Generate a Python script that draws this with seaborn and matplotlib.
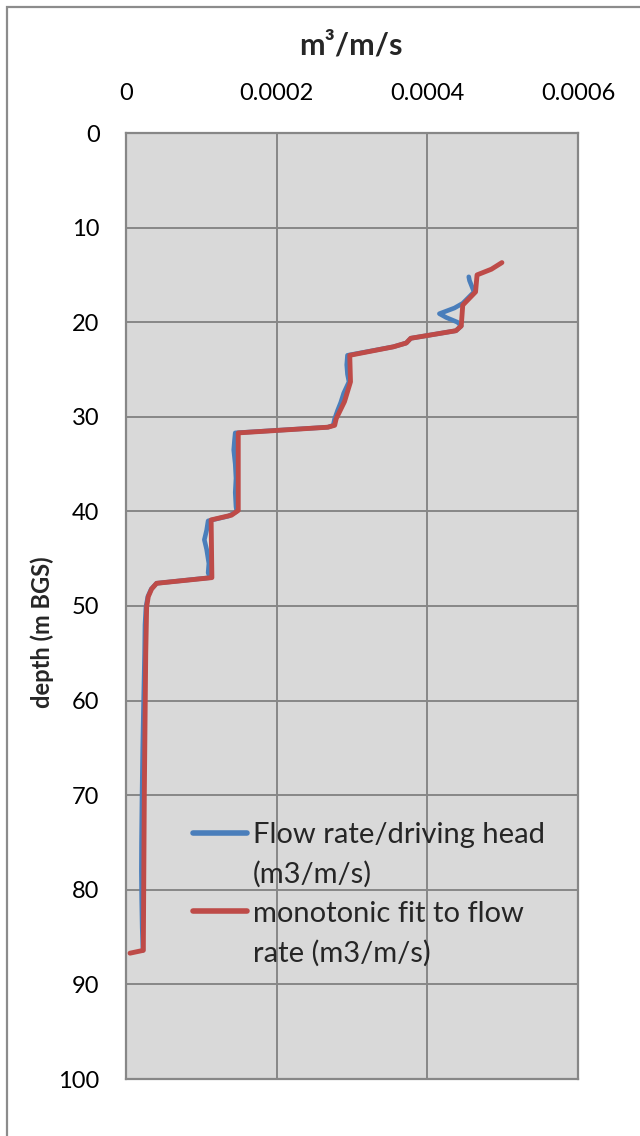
import matplotlib
matplotlib.use("Agg")
import matplotlib.pyplot as plt
import seaborn as sns
import pandas as pd
from matplotlib.lines import Line2D
from matplotlib.patches import Rectangle
from matplotlib.ticker import FixedLocator, FixedFormatter

# ---- data ----
fit_depth = [13.7, 14.4, 15.0, 16.8, 18.2, 20.4, 20.9, 21.7, 22.2, 22.6, 23.5,
             26.3, 28.4, 30.2, 30.9, 31.1, 31.7, 39.9, 40.4, 40.9, 47.0, 47.6,
             48.2, 49.0, 50.1, 55.0, 62.8, 70.0, 80.0, 86.4, 86.7]
fit_rate = [0.000499, 0.000485, 0.000466, 0.000464, 0.000447, 0.000445, 0.000438,
            0.000378, 0.000372, 0.000355, 0.000297, 0.000298, 0.000290, 0.000279,
            0.000277, 0.000268, 0.000149, 0.000149, 0.000140, 0.000113, 0.000114,
            0.0000406, 0.0000340, 0.0000296, 0.0000274, 0.0000262, 0.0000252,
            0.0000243, 0.0000235, 0.0000230, 0.0000053]

flow_depth = [15.2, 15.6, 16.2, 16.8, 18.0, 18.5, 19.1, 19.5, 20.0, 20.4, 20.9,
              21.7, 22.2, 22.6, 23.5, 24.5, 25.5, 26.3, 27.5, 28.5, 29.3, 30.2,
              30.9, 31.1, 31.7, 32.5, 33.5, 35.0, 36.5, 38.0, 39.5, 40.0, 40.5,
              41.0, 42.0, 43.0, 44.0, 45.5, 46.5, 47.0, 47.6, 48.2, 49.0, 50.1,
              52.0, 55.0, 60.0, 65.0, 70.5, 75.0, 78.0, 81.0, 84.0, 86.4]
flow_rate = [0.000455, 0.000456, 0.000459, 0.000462, 0.000447, 0.000436, 0.000416,
             0.000425, 0.000440, 0.000445, 0.000438, 0.000378, 0.000372, 0.000355,
             0.000294, 0.000293, 0.000294, 0.000296, 0.000289, 0.000285, 0.000281,
             0.000277, 0.000275, 0.000268, 0.000145, 0.000144, 0.000143, 0.000145,
             0.000146, 0.000145, 0.000146, 0.000147, 0.000136, 0.000109, 0.000107,
             0.000104, 0.000107, 0.000110, 0.000109, 0.000112, 0.0000406, 0.0000335,
             0.0000290, 0.0000265, 0.0000252, 0.0000247, 0.0000234, 0.0000222,
             0.0000212, 0.0000206, 0.0000204, 0.0000208, 0.0000215, 0.0000225]

x_ticks = [0, 0.0002, 0.0004, 0.0006]
x_tick_labels = ["0", "0.0002", "0.0004", "0.0006"]
y_ticks = list(range(0, 101, 10))
y_tick_labels = [str(v) for v in y_ticks]

label_flow = "Flow rate/driving head"
label_flow2 = "(m3/m/s)"
label_fit = "monotonic fit to flow"
label_fit2 = "rate (m3/m/s)"
x_title = "m\u00b3/m/s"
y_title = "depth (m BGS)"

# ---- style ----
sns.set_style("white")
plt.rcParams["font.family"] = ["Lato", "DejaVu Sans"]

BLUE = "#4a7ebb"
RED = "#be4b48"
GRID = "#878787"
BG = "#d9d9d9"

fig = plt.figure(figsize=(6.4, 11.36), dpi=100)
W, H = 640, 1136
ax = fig.add_axes([126 / W, 1 - 1079 / H, (578 - 126) / W, (1079 - 133) / H])
ax.set_facecolor(BG)

df_flow = pd.DataFrame({"rate": flow_rate, "depth": flow_depth})
df_fit = pd.DataFrame({"rate": fit_rate, "depth": fit_depth})

sns.lineplot(data=df_flow, x="rate", y="depth", sort=False, estimator=None,
             color=BLUE, lw=3.3, ax=ax, solid_capstyle="round", solid_joinstyle="round")
sns.lineplot(data=df_fit, x="rate", y="depth", sort=False, estimator=None,
             color=RED, lw=3.5, ax=ax, solid_capstyle="round", solid_joinstyle="round")

ax.set_xlim(0, 0.0006)
ax.set_ylim(100, 0)
ax.xaxis.tick_top()
ax.xaxis.set_major_locator(FixedLocator(x_ticks))
ax.xaxis.set_major_formatter(FixedFormatter(x_tick_labels))
ax.yaxis.set_major_locator(FixedLocator(y_ticks))
ax.yaxis.set_major_formatter(FixedFormatter(y_tick_labels))
ax.tick_params(axis="x", length=0, pad=21, labelsize=17, colors="black")
ax.tick_params(axis="y", length=0, pad=19, labelsize=17, colors="black")
ax.grid(True, color=GRID, lw=1.4)
ax.set_axisbelow(True)
for s in ax.spines.values():
    s.set_color(GRID)
    s.set_linewidth(1.6)
ax.set_xlabel("")
ax.set_ylabel("")

fig.text(351 / W, 1 - 45 / H, x_title, ha="center", va="center",
         fontsize=22, fontweight="bold")
fig.text(42 / W, 1 - 632 / H, y_title, ha="center", va="center",
         rotation=90, fontsize=17, fontweight="bold")

handles = [Line2D([], [], color=BLUE, lw=4, solid_capstyle="round"),
           Line2D([], [], color="none"),
           Line2D([], [], color=RED, lw=4, solid_capstyle="round"),
           Line2D([], [], color="none")]
labels = [label_flow, label_flow2, label_fit, label_fit2]
fig.legend(handles, labels, loc="upper left",
           bbox_to_anchor=(193 / W, 1 - 822 / H), frameon=False,
           fontsize=21, handlelength=1.85, handletextpad=0.2,
           labelspacing=0.44, borderpad=0, borderaxespad=0)

fig.patches.append(Rectangle((7 / W, -0.05), 1.2, 1 - 7 / H + 0.05,
                             transform=fig.transFigure, fill=False,
                             edgecolor="#8c8c8c", lw=1.6))

fig.savefig("out.png", dpi=100)
